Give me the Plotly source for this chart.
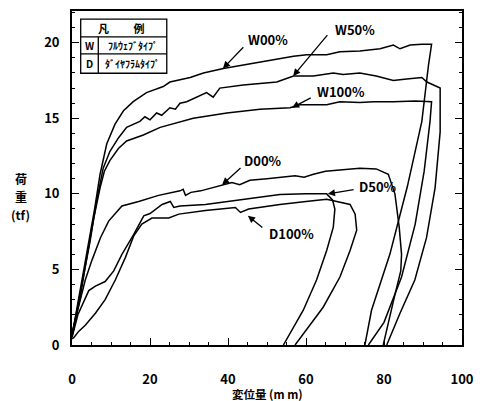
import plotly.graph_objects as go

# ---------------- data ----------------
x_tick_vals = [0, 20, 40, 60, 80, 100]
y_tick_vals = [0, 5, 10, 15, 20]

w00_x = [0, 2.0, 4.4, 5.8, 7.2, 8.9, 11.0, 13.2, 15.7, 19.1, 23.4, 25.1, 30.3, 33.7, 38.8, 43.1,
         49.9, 56.8, 60.2, 65.3, 68.7, 73.8, 79.0, 82.4, 84.1, 86.7, 89.7, 92.2,
         91.4, 89.7, 86.0, 81.5, 76.8, 75.1]
w00_y = [0.6, 3.5, 6.8, 9.0, 11.3, 13.3, 14.6, 15.5, 16.1, 16.7, 17.1, 17.4, 17.7, 18.0, 18.3, 18.5,
         18.8, 19.1, 19.2, 19.2, 19.4, 19.45, 19.6, 19.85, 19.6, 19.85, 19.9, 19.9,
         18.5, 14.8, 10.5, 6.0, 2.3, 0]

w50_x = [0, 2.2, 4.6, 6.3, 8.0, 9.7, 11.9, 14.0, 17.4, 18.7, 20.0, 21.7, 23.0, 25.1, 26.5, 27.7,
         29.4, 34.5, 36.2, 37.9, 43.9, 52.5, 56.8, 61.9, 67.0, 69.5, 73.8, 78.0, 82.4, 85.8,
         89.7, 91.0, 94.4, 94.4, 93.1, 90.9, 87.9, 84.1, 80.7]
w50_y = [0.6, 3.5, 6.8, 9.5, 11.7, 12.8, 13.7, 14.4, 14.8, 15.1, 14.9, 15.35, 15.2, 15.7, 15.6, 16.0,
         16.1, 16.7, 16.4, 17.0, 17.2, 17.4, 17.8, 17.8, 18.0, 17.9, 18.0, 17.8, 17.5, 17.6,
         17.7, 17.4, 17.0, 14.1, 10.4, 7.1, 4.3, 2.1, 0]

w100_x = [0, 2.0, 3.8, 5.5, 7.2, 8.3, 9.7, 11.9, 14.0, 18.3, 22.6, 31.1, 39.7, 48.2, 55.9, 58.5,
          65.3, 68.7, 73.8, 77.3, 82.4, 88.0, 92.2, 91.8, 90.3, 88.0, 84.5, 80.0, 76.0]
w100_y = [0.6, 3.0, 5.8, 8.3, 10.4, 11.5, 12.2, 13.0, 13.5, 13.9, 14.4, 15.0, 15.35, 15.6, 15.7, 15.9,
          15.9, 16.1, 16.05, 16.1, 16.1, 16.15, 16.1, 14.8, 11.5, 8.0, 4.5, 1.5, 0]

d00_x = [0, 1.7, 3.4, 5.1, 7.3, 9.4, 12.8, 17.1, 22.2, 27.7, 28.5, 29.1, 30.5, 33.0, 38.4, 41.0,
         43.0, 45.6, 50.0, 57.2, 59.5, 61.9, 65.0, 70.0, 73.8, 78.0, 81.1, 82.8, 83.9, 84.5,
         84.3, 82.5, 79.8]
d00_y = [0.8, 2.5, 4.3, 5.6, 7.1, 8.2, 9.2, 9.5, 9.9, 10.2, 10.3, 9.9, 10.1, 10.2, 10.6, 10.75,
         10.6, 10.9, 11.0, 11.2, 11.1, 11.3, 11.5, 11.6, 11.7, 11.65, 11.3, 10.0, 7.8, 6.0,
         4.9, 3.0, 0]

d50_x = [0, 1.5, 4.3, 6.0, 8.5, 10.7, 12.8, 15.8, 18.4, 20.0, 23.1, 25.2, 26.1, 27.7, 34.2, 40.0,
         44.8, 53.3, 60.0, 65.3, 66.8, 67.4, 67.0, 65.3, 62.7, 59.3, 54.2]
d50_y = [0.5, 2.0, 3.6, 3.9, 4.2, 4.9, 6.0, 7.3, 8.55, 8.7, 9.3, 9.5, 9.1, 9.2, 9.3, 9.5,
         9.7, 9.95, 10.0, 10.0, 9.6, 9.0, 7.8, 6.25, 4.3, 2.3, 0]

d100_x = [0, 0.5, 1.7, 3.4, 6.0, 8.5, 11.1, 13.7, 15.8, 17.9, 20.5, 24.8, 27.4, 34.2, 41.9, 43.2,
          45.3, 53.3, 60.0, 65.3, 71.3, 72.6, 73.0, 71.3, 68.7, 64.4, 57.2]
d100_y = [0.4, 0.5, 0.9, 1.3, 2.1, 3.0, 4.3, 5.8, 7.2, 8.0, 8.4, 8.4, 8.66, 8.9, 9.1, 8.77,
          9.0, 9.3, 9.5, 9.65, 9.3, 8.66, 7.6, 6.25, 4.5, 2.5, 0]

series_names = ["W00%", "W50%", "W100%", "D00%", "D50%", "D100%"]
series_x = [w00_x, w50_x, w100_x, d00_x, d50_x, d100_x]
series_y = [w00_y, w50_y, w100_y, d00_y, d50_y, d100_y]

# ---------------- figure ----------------
FONT = "Noto Sans CJK JP"
fig = go.Figure()
for name, xs, ys in zip(series_names, series_x, series_y):
    fig.add_trace(go.Scatter(x=xs, y=ys, mode="lines", name=name,
                             line=dict(color="black", width=1.5)))

# curve labels: (text, text_x, text_y, arrow_tip_x, arrow_tip_y, arrow_tail_x, arrow_tail_y)
label_specs = [
    ("W00%", 50.2, 20.2, 38.7, 18.3, 44.3, 19.8),
    ("W50%", 72.6, 20.9, 56.7, 17.8, 65.8, 20.6),
    ("W100%", 69.0, 16.8, 56.4, 15.7, 61.6, 16.4),
    ("D00%", 49.0, 12.2, 38.5, 10.6, 43.6, 11.8),
    ("D50%", 78.4, 10.5, 65.6, 10.0, 72.6, 10.3),
    ("D100%", 56.2, 7.4, 45.1, 8.55, 49.2, 7.7),
]
for t, tx, ty, hx, hy, sx, sy in label_specs:
    fig.add_annotation(x=tx, y=ty, text=t, showarrow=False, xref="x", yref="y",
                       font=dict(family=FONT, size=13, color="black", weight="bold"))
    fig.add_annotation(x=hx, y=hy, ax=sx, ay=sy, axref="x", ayref="y", xref="x", yref="y",
                       text="", showarrow=True, arrowhead=2, arrowsize=1.1,
                       arrowwidth=1.3, arrowcolor="black")

# legend table (凡例)
tbl = dict(type="line", xref="x", yref="y", line=dict(color="black", width=1.3))
x0, x1, xd = 2.23, 24.3, 6.74
yt, yh, yr, yb = 21.56, 20.39, 19.26, 17.98
fig.add_shape(type="rect", xref="x", yref="y", x0=x0, x1=x1, y0=yb, y1=yt,
              line=dict(color="black", width=1.3), fillcolor="white")
fig.add_shape(x0=x0, x1=x1, y0=yh, y1=yh, **tbl)
fig.add_shape(x0=x0, x1=x1, y0=yr, y1=yr, **tbl)
fig.add_shape(x0=xd, x1=xd, y0=yb, y1=yh, **tbl)
fig.add_annotation(x=(x0 + x1) / 2 - 0.6, y=(yt + yh) / 2, text="凡　　 例", showarrow=False,
                   font=dict(family=FONT, size=11, color="black", weight="bold"))
fig.add_annotation(x=(x0 + xd) / 2, y=(yh + yr) / 2, text="W", showarrow=False,
                   font=dict(family=FONT, size=10, color="black", weight="bold"))
fig.add_annotation(x=(x0 + xd) / 2, y=(yr + yb) / 2, text="D", showarrow=False,
                   font=dict(family=FONT, size=10, color="black", weight="bold"))
fig.add_annotation(x=(xd + x1) / 2, y=(yh + yr) / 2, text="ﾌﾙｳｪﾌﾞﾀｲﾌﾟ", showarrow=False,
                   font=dict(family=FONT, size=10, color="black", weight="bold"))
fig.add_annotation(x=(xd + x1) / 2, y=(yr + yb) / 2, text="ﾀﾞｲﾔﾌﾗﾑﾀｲﾌﾟ", showarrow=False,
                   font=dict(family=FONT, size=10, color="black", weight="bold"))

# axis titles
for part, py in [("荷", 0.498), ("重", 0.444), ("(tf)", 0.392)]:
    fig.add_annotation(xref="paper", yref="paper", x=-0.131, y=py, text=part,
                       showarrow=False, xanchor="center", yanchor="middle",
                       font=dict(family=FONT, size=12, color="black", weight="bold"))
fig.add_annotation(xref="paper", yref="paper", x=0.50, y=-0.147, text="変位量 (m m)",
                   showarrow=False, xanchor="center", yanchor="middle",
                   font=dict(family=FONT, size=11.5, color="black", weight="bold"))

axis_common = dict(showgrid=False, zeroline=False, showline=True, linecolor="black",
                   linewidth=1.8, ticks="inside", tickcolor="black", tickwidth=1.3,
                   ticklen=7, tickfont=dict(family=FONT, size=13, color="black", weight="bold"))
fig.update_xaxes(range=[0, 100], tickvals=x_tick_vals, mirror=True,
                 ticklabelstandoff=21,
                 minor=dict(dtick=5, ticks="inside", ticklen=3, tickcolor="black", tickwidth=1),
                 **axis_common)
fig.update_yaxes(range=[0, 22.1], tickvals=y_tick_vals, mirror="ticks",
                 ticklabelstandoff=8,
                 minor=dict(dtick=1, ticks="inside", ticklen=3, tickcolor="black", tickwidth=1),
                 **axis_common)
# the page body adds an 8px offset, so the figure is sized/margined to land the plot
# area where the reference has it inside the 485x401 window
fig.update_layout(width=477, height=393, margin=dict(l=64, r=23, t=1, b=56),
                  paper_bgcolor="white", plot_bgcolor="white", showlegend=False)
fig.write_html("out.html")
